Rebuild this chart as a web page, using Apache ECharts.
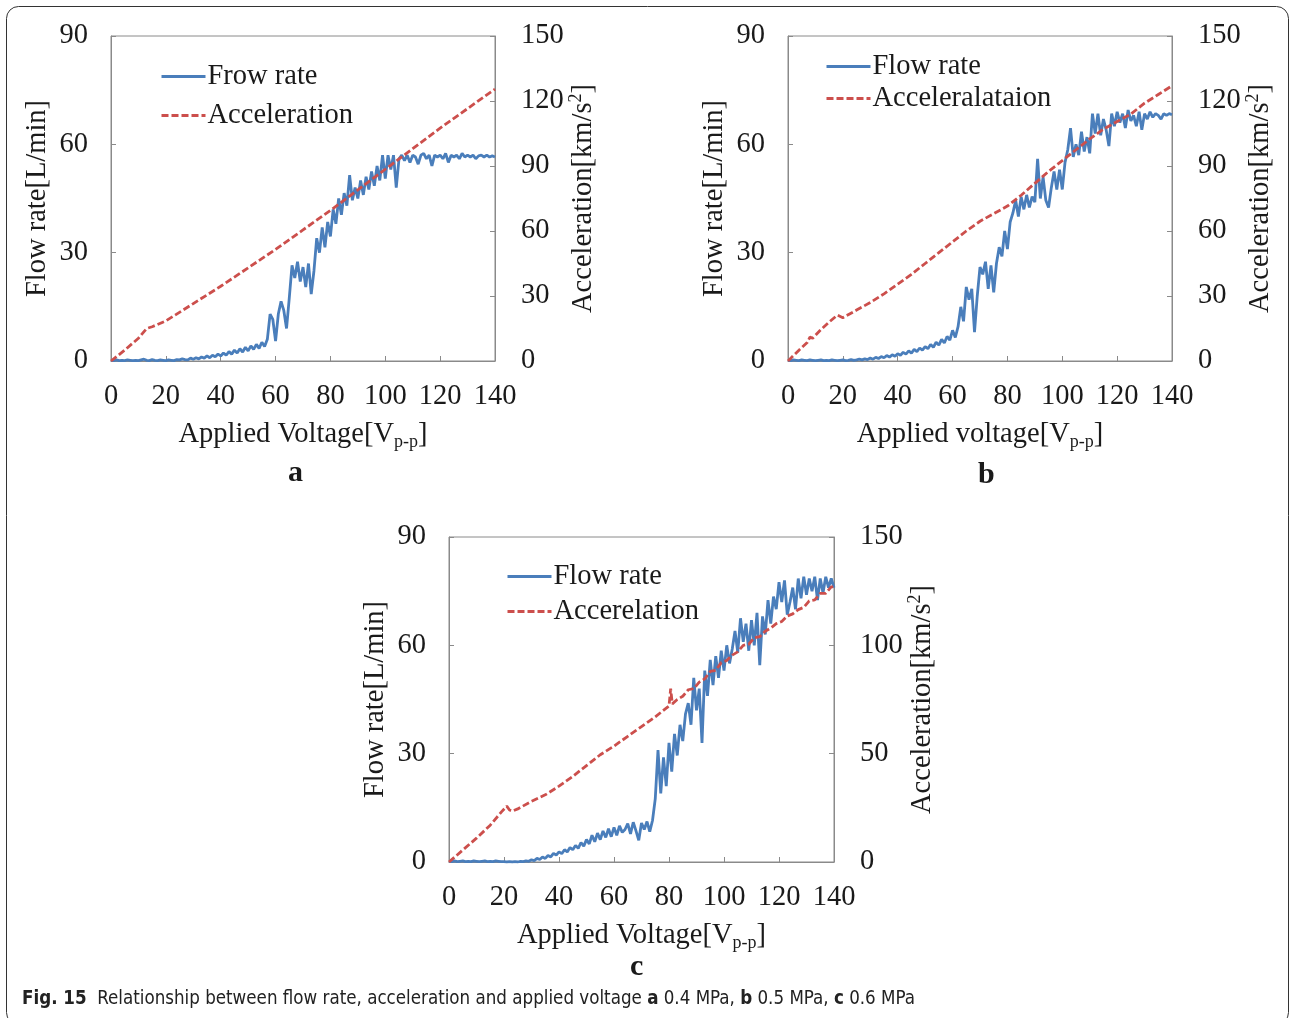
<!DOCTYPE html>
<html>
<head>
<meta charset="utf-8">
<script src="https://cdn.jsdelivr.net/npm/echarts@6/dist/echarts.min.js"></script>
<style>
html,body{margin:0;padding:0;background:#fff;}
#main{width:1290px;height:1018px;}
</style>
</head>
<body>
<div id="main"></div>
<script>
// ---- data (flow sampled every 1 V from 0 to 140 V) ----
const flowStepV = 1;
const flowA = [
0.2,0.1,0.3,0.1,0.2,0.1,0.3,0.2,0.1,0.2,
0.1,0.3,0.5,0.2,0.1,0.4,0.2,0.1,0.3,0.2,
0.1,0.3,0.2,0.1,0.4,0.3,0.6,0.4,0.3,0.8,
0.5,0.9,0.6,1.1,0.8,1.4,0.9,1.6,1.2,1.9,
1.4,2.2,1.6,2.6,1.9,3.0,2.2,3.4,2.5,3.8,
2.8,4.2,3.2,4.6,3.5,5.2,4.0,6.0,13.0,11.5,
5.5,13.0,16.5,14.0,9.0,17.5,26.5,23.0,27.5,22.0,
26.0,20.5,27.0,18.5,25.0,34.0,30.0,37.0,31.5,38.5,
34.5,42.0,38.0,45.0,40.5,46.5,43.0,51.5,44.5,48.0,
45.0,50.0,46.0,51.0,47.5,52.5,48.5,54.0,50.0,57.0,
50.5,57.0,53.0,57.0,48.0,56.0,57.0,55.5,57.0,55.0,
57.0,56.5,54.5,57.0,57.5,56.0,57.0,54.0,57.0,56.5,
57.0,56.0,57.5,55.0,57.0,56.5,57.0,56.0,57.5,56.5,
57.0,56.5,57.0,56.0,56.8,57.0,56.5,57.0,56.5,56.8,56.5
];
const flowB = [
0.2,0.1,0.3,0.2,0.1,0.3,0.2,0.1,0.3,0.2,
0.1,0.2,0.3,0.1,0.2,0.1,0.3,0.2,0.1,0.2,
0.3,0.1,0.2,0.4,0.2,0.3,0.5,0.3,0.6,0.4,
0.8,0.5,1.0,0.7,1.2,0.9,1.5,1.1,1.7,1.3,
2.0,1.6,2.4,1.9,2.8,2.2,3.2,2.6,3.6,3.0,
4.0,3.4,4.6,3.8,5.2,4.4,6.0,5.0,6.8,5.8,
8.5,6.5,9.5,15.0,11.0,20.5,17.0,20.0,8.0,18.0,
26.0,24.0,27.5,20.0,26.5,19.0,27.0,31.5,29.0,36.0,
31.0,38.5,41.0,44.5,40.0,45.5,42.0,46.0,42.5,45.5,
44.0,56.0,45.0,51.0,44.5,42.5,48.0,52.5,47.5,53.0,
47.5,55.0,58.5,64.5,56.5,60.0,57.0,63.5,58.0,62.0,
57.5,68.5,63.0,68.5,62.5,67.0,64.0,59.5,68.5,65.0,
69.0,66.0,68.5,64.5,69.5,66.5,68.0,65.0,69.0,64.0,
68.5,67.0,69.0,67.5,68.5,68.0,67.0,68.5,68.0,68.5,68.2
];
const flowC = [
0.2,0.1,0.3,0.1,0.2,0.3,0.1,0.2,0.1,0.3,
0.2,0.1,0.2,0.3,0.1,0.2,0.1,0.3,0.2,0.1,
0.1,0.0,0.1,0.0,0.1,0.0,0.2,0.1,0.3,0.2,
0.6,0.4,1.0,0.7,1.4,1.0,1.8,1.4,2.4,1.9,
2.8,2.3,3.4,2.8,4.0,3.4,4.6,3.8,5.4,4.4,
6.2,5.0,7.4,5.6,8.0,6.2,8.6,6.8,9.2,7.0,
9.6,7.4,10.0,8.2,9.0,10.6,7.8,11.0,8.6,6.0,
10.8,9.0,11.2,8.4,11.5,17.5,31.0,19.0,29.0,21.0,
33.0,25.0,35.5,29.5,38.0,33.5,41.0,44.0,38.0,51.0,
42.0,48.0,33.0,53.0,46.0,56.0,49.0,57.0,51.0,58.5,
53.0,60.0,55.0,59.0,64.0,58.0,67.5,61.0,66.0,58.5,
67.0,60.0,69.0,54.5,68.0,63.0,72.5,66.0,73.5,70.0,
77.5,72.0,78.0,68.5,72.0,76.0,70.0,78.5,73.0,79.0,
74.0,78.5,75.0,79.0,72.5,78.5,74.5,79.0,76.0,78.5,76.0
];
const accVoltA = [0,5,10,13,15,20,30,40,50,60,70,80,90,100,110,120,130,140];
const accA     = [0,5,10.5,15,15.8,18.5,26.5,34.5,43,51.5,60.5,69.5,79,88.5,98,107.5,116.5,125.5];
const accVoltB = [0,4,7,8,9,12,15,18,20,25,30,35,40,45,50,55,60,65,70,75,80,85,90,95,100,105,110,115,120,125,130,135,140];
const accB     = [0,5,8.5,11,10.5,14.5,18,21.2,20,23.5,27,31,35.5,40,45,50,55,60,64.5,68,71.5,76.5,82,87.5,92.5,97.5,102.5,107,110.5,114,119,123,127];
const accVoltC = [0,5,10,15,19,21,22,23,25,30,35,40,45,50,55,60,65,70,75,79,80,80.6,81.2,83,85,87,89,91,93,95,97,99,101,103,105,107,109,111,113,115,117,119,121,123,125,127,129,131,133,135,137,139,140];
const accC     = [0,5.5,11,17,23,25.8,24,23.5,24.5,28,31,35,39.5,44.5,49.5,53.5,58,62.5,67,71,72,80,73,75,76.5,79.5,80,83,84.5,88,88.5,92,93,95.5,97,100,100.5,103.5,104,106.5,108,110,111,113.5,114.5,116.5,117.5,120.5,121,124,124,127,127];
const xTicks = {min:0,max:140,interval:20};
const flowTicks = {min:0,max:90,interval:30};
const accTicksAB = {min:0,max:150,interval:30};
const accTicksC = {min:0,max:150,interval:50};

const pairs = (vals) => vals.map((v,i)=>[i*flowStepV, v]);
const zip = (xs, ys) => xs.map((x,i)=>[x, ys[i]]);

const SERIF = 'Liberation Serif, Times New Roman, serif';
const FS = 28.5;
const TXT = '#1a1a1a';
const FRAME = '#8a8a8a';
const BLUE = '#4a7ebb';
const RED = '#cc4f4c';
const CAPFONT = '"Liberation Sans Narrow", "DejaVu Sans Condensed", sans-serif';

const grids = [
  {left:111, top:36, width:384, height:325},
  {left:788, top:36, width:384, height:325},
  {left:449, top:537, width:385, height:325}
];

function xAxis(gi, name){
  return {
    type:'value', gridIndex:gi, min:xTicks.min, max:xTicks.max, interval:xTicks.interval,
    axisLine:{show:true, lineStyle:{color:FRAME, width:1}},
    axisTick:{show:true, inside:true, length:5, lineStyle:{color:FRAME}},
    splitLine:{show:false},
    axisLabel:{color:TXT, fontFamily:SERIF, fontSize:FS, margin:21},
    name:name, nameLocation:'middle', nameGap:57,
    nameTextStyle:{color:TXT, fontFamily:SERIF, fontSize:FS,
      rich:{sub:{fontSize:18, fontFamily:SERIF, color:TXT, verticalAlign:'bottom', padding:[15,0,0,0]}}}
  };
}
function yAxisL(gi){
  return {
    type:'value', gridIndex:gi, position:'left', min:flowTicks.min, max:flowTicks.max, interval:flowTicks.interval,
    axisLine:{show:true, lineStyle:{color:FRAME, width:1}},
    axisTick:{show:true, inside:true, length:5, lineStyle:{color:FRAME}},
    splitLine:{show:false},
    axisLabel:{color:TXT, fontFamily:SERIF, fontSize:FS, margin:23},
    name:'Flow rate[L/min]', nameLocation:'middle', nameGap:59,
    nameTextStyle:{color:TXT, fontFamily:SERIF, fontSize:FS}
  };
}
function yAxisR(gi, ticks){
  return {
    type:'value', gridIndex:gi, position:'right', min:ticks.min, max:ticks.max, interval:ticks.interval,
    axisLine:{show:true, lineStyle:{color:FRAME, width:1}},
    axisTick:{show:true, inside:true, length:5, lineStyle:{color:FRAME}},
    splitLine:{show:false},
    axisLabel:{color:TXT, fontFamily:SERIF, fontSize:FS, margin:26},
    name:'Acceleration[km/s{sup|2}]', nameLocation:'middle', nameGap:70,
    nameTextStyle:{color:TXT, fontFamily:SERIF, fontSize:FS,
      rich:{sup:{fontSize:18, fontFamily:SERIF, color:TXT, verticalAlign:'top', padding:[0,0,13,0]}}}
  };
}
function flowSeries(name, gi, vals){
  return {type:'line', name:name, xAxisIndex:gi, yAxisIndex:gi*2, data:pairs(vals),
    symbol:'none', lineStyle:{color:BLUE, width:2.8}, itemStyle:{color:BLUE}, animation:false, z:2};
}
function accSeries(name, gi, xs, ys){
  return {type:'line', name:name, xAxisIndex:gi, yAxisIndex:gi*2+1, data:zip(xs,ys),
    symbol:'none', lineStyle:{color:RED, width:2.8, type:[7,3]}, itemStyle:{color:RED}, animation:false, z:3};
}
function legend(left, top, gap, names){
  return {left:left, top:top, orient:'vertical', itemWidth:44, itemHeight:14, itemGap:gap, padding:0,
    data:names, selectedMode:false, itemStyle:{opacity:0}, lineStyle:{width:3},
    textStyle:{color:TXT, fontFamily:SERIF, fontSize:FS, lineHeight:28, padding:[0,0,0,-3]}};
}

const option = {
  backgroundColor:'#fff',
  animation:false,
  grid: grids.map(g=>Object.assign({show:true, borderColor:FRAME, borderWidth:1, backgroundColor:'transparent'}, g)),
  xAxis:[
    xAxis(0,'Applied Voltage[V{sub|p-p}]'),
    xAxis(1,'Applied voltage[V{sub|p-p}]'),
    xAxis(2,'Applied Voltage[V{sub|p-p}]')
  ],
  yAxis:[ yAxisL(0), yAxisR(0,accTicksAB), yAxisL(1), yAxisR(1,accTicksAB), yAxisL(2), yAxisR(2,accTicksC) ],
  legend:[
    legend(160, 62, 10, ['Frow rate','Acceleration']),
    legend(825, 52, 3, ['Flow rate','Acceleralataion']),
    legend(506, 562, 6, ['Flow rate','Accerelation'])
  ],
  series:[
    flowSeries('Frow rate',0,flowA), accSeries('Acceleration',0,accVoltA,accA),
    flowSeries('Flow rate',1,flowB), accSeries('Acceleralataion',1,accVoltB,accB),
    flowSeries('Flow rate',2,flowC), accSeries('Accerelation',2,accVoltC,accC)
  ],
  graphic:[
    {type:'rect', shape:{x:6.5,y:6.5,width:1282,height:1018,r:12}, style:{fill:'none', stroke:'#333', lineWidth:1}, silent:true},
    {type:'text', left:288, top:458, style:{text:'a', fill:TXT, font:'bold 30px '+SERIF}},
    {type:'text', left:978, top:460, style:{text:'b', fill:TXT, font:'bold 30px '+SERIF}},
    {type:'text', left:630, top:952, style:{text:'c', fill:TXT, font:'bold 30px '+SERIF}},
    {type:'text', left:22, top:990, style:{
      text:'{b|Fig. 15}  Relationship between flow rate, acceleration and applied voltage {b|a} 0.4 MPa, {b|b} 0.5 MPa, {b|c} 0.6 MPa',
      fill:'#222', font:'18.6px '+CAPFONT,
      rich:{b:{fontWeight:'bold', fontSize:18.6, fontFamily:CAPFONT, fill:'#222'}}
    }}
  ]
};
const chart = echarts.init(document.getElementById('main'), null, {renderer:'canvas'});
chart.setOption(option);
</script>
</body>
</html>
